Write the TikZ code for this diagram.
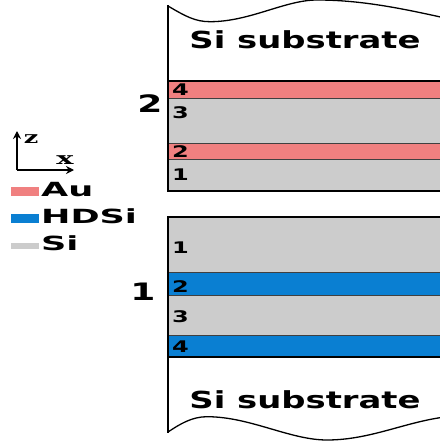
\documentclass[tikz,border=0pt]{standalone}
\usepackage{fontspec}
\setmainfont{DejaVu Sans}
\newfontfamily\axfont{DejaVu Serif}
\usetikzlibrary{arrows.meta}
\definecolor{au}{HTML}{F08080}
\definecolor{hdsi}{HTML}{0A7FD2}
\definecolor{sil}{HTML}{CCCCCC}
\newcommand\sx[2]{\scalebox{#1}[1]{#2}}
\tikzset{
  thin line/.style={draw=black!75, line width=0.9pt},
  thick line/.style={draw=black, line width=1.8pt},
  sub/.style={inner sep=0pt, font=\bfseries\fontsize{23.5}{23.5}\selectfont},
  big/.style={inner sep=0pt, font=\bfseries\fontsize{24}{24}\selectfont},
  lnum/.style={inner sep=0pt, anchor=west, font=\bfseries\fontsize{16}{16}\selectfont},
  leg/.style={inner sep=0pt, anchor=west, font=\bfseries\fontsize{19.5}{19.5}\selectfont},
  ax/.style={inner sep=0pt, font=\axfont\bfseries\fontsize{17}{17}\selectfont},
}
\begin{document}
\begin{tikzpicture}[x=1pt,y=-1pt]
\useasboundingbox (0,0) rectangle (439,444);
% ---- stack 2 (top)
\fill[white] (168,6) .. controls (185,16) and (195,21.7) .. (210,21.7) .. controls (250,21.7) and (285,0) .. (317,0) .. controls (360,0) and (400,8) .. (445,18) -- (445,81) -- (168,81) -- cycle;
\draw[line width=1.3pt] (168,6) .. controls (185,16) and (195,21.7) .. (210,21.7) .. controls (250,21.7) and (285,0) .. (317,0) .. controls (360,0) and (400,8) .. (445,18);
\fill[au] (168,80.7) rectangle (445,98.3);
\fill[sil] (168,98.3) rectangle (445,143.7);
\fill[au] (168,143.7) rectangle (445,159.7);
\fill[sil] (168,159.7) rectangle (445,190.7);
\draw[thin line] (168,98.3) -- (445,98.3);
\draw[thin line] (168,143.7) -- (445,143.7);
\draw[thin line] (168,159.7) -- (445,159.7);
\draw[thick line] (168,80.7) -- (445,80.7);
\draw[thick line] (168,190.7) -- (445,190.7);
\draw[line width=1.8pt] (168,5.5) -- (168,191.6);
\node[sub] (sub2) at (305,40) {\sx{1.44}{Si substrate}};
\node[big] (lab2) at (150,104) {\sx{1.5}{2}};
\node[lnum] (t4) at (172,89.5) {\sx{1.5}{4}};
\node[lnum] (t3) at (172,113) {\sx{1.5}{3}};
\node[lnum] (t2) at (172,152) {\sx{1.5}{2}};
\node[lnum] (t1) at (172,174.5) {\sx{1.5}{1}};
% ---- stack 1 (bottom)
\fill[sil] (168,217.3) rectangle (445,272.7);
\fill[hdsi] (168,272.7) rectangle (445,295.7);
\fill[sil] (168,295.7) rectangle (445,335);
\fill[hdsi] (168,335) rectangle (445,357.3);
\draw[thin line] (168,272.7) -- (445,272.7);
\draw[thin line] (168,295.7) -- (445,295.7);
\draw[thin line] (168,335) -- (445,335);
\draw[thick line] (168,217.3) -- (445,217.3);
\draw[thick line] (168,357.3) -- (445,357.3);
\draw[line width=1.3pt] (168,432) .. controls (180,424) and (192,416.7) .. (207,416.7) .. controls (250,416.7) and (290,440) .. (327,440) .. controls (370,440) and (405,422) .. (445,417);
\draw[line width=1.8pt] (168,216.4) -- (168,432.5);
\node[sub] (sub1) at (305,400) {\sx{1.44}{Si substrate}};
\node[big] (lab1) at (143,292) {\sx{1.5}{1}};
\node[lnum] (b1) at (172,248) {\sx{1.5}{1}};
\node[lnum] (b2) at (172,287) {\sx{1.5}{2}};
\node[lnum] (b3) at (172,317) {\sx{1.5}{3}};
\node[lnum] (b4) at (172,347) {\sx{1.5}{4}};
% ---- axes
\coordinate (o) at (17,170);
\coordinate (zt) at (17,131);
\coordinate (xt) at (74,170);
\draw[line width=1.5pt, -{Stealth[length=8pt,width=8pt]}] (o) -- (zt);
\draw[line width=1.5pt, -{Stealth[length=8pt,width=8pt]}] (o) -- (xt);
\node[ax] (zl) at (31,139.5) {\sx{1.5}{z}};
\node[ax] (xl) at (65,160.5) {\sx{1.7}{x}};
% ---- legend
\fill[au] (11,186.7) rectangle (39,196);
\fill[hdsi] (11,214.3) rectangle (39,222.7);
\fill[sil] (11,242.7) rectangle (39,249.3);
\node[leg] (lau) at (41,190) {\sx{1.8}{Au}};
\node[leg] (lhd) at (41,216.5) {\sx{1.8}{HDSi}};
\node[leg] (lsi) at (41,243) {\sx{1.8}{Si}};
\end{tikzpicture}
\end{document}
